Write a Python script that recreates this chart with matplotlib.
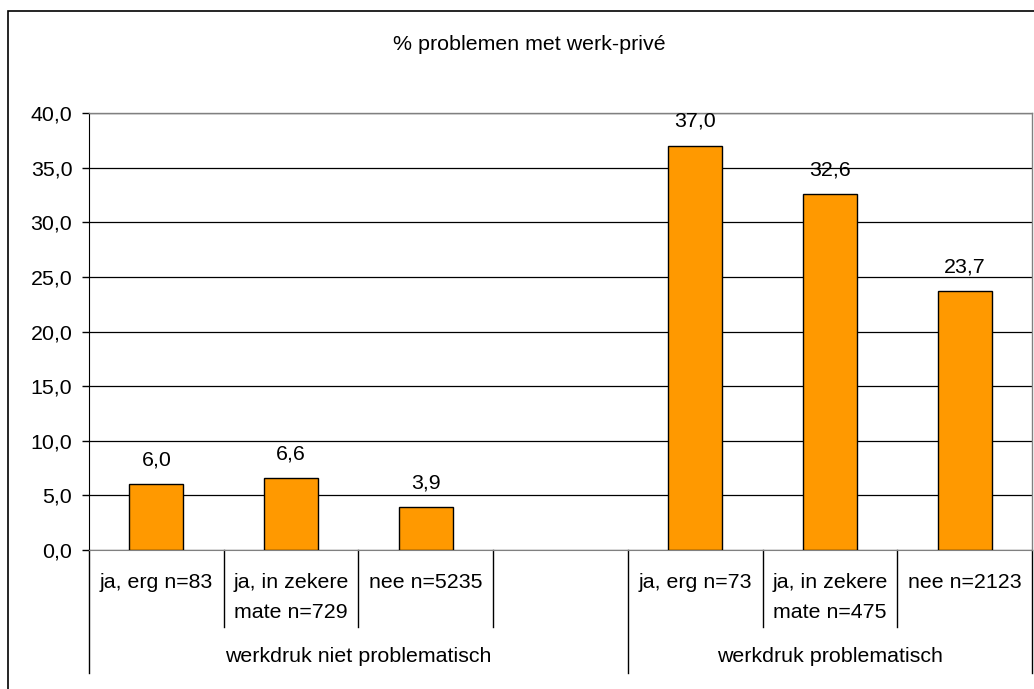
import matplotlib
matplotlib.use("Agg")
import matplotlib.pyplot as plt
from matplotlib.patches import Rectangle
from matplotlib.ticker import FuncFormatter, MultipleLocator
import matplotlib.transforms as mtransforms

plt.rcParams['font.family'] = ['Liberation Sans', 'DejaVu Sans']

title = "% problemen met werk-privé"
categories = ["ja, erg n=83", "ja, in zekere\nmate n=729", "nee n=5235", "",
              "ja, erg n=73", "ja, in zekere\nmate n=475", "nee n=2123"]
values = [6.0, 6.6, 3.9, None, 37.0, 32.6, 23.7]
groups = ["werkdruk niet problematisch", "werkdruk problematisch"]
group_spans = [(0, 3), (4, 6)]  # slot index ranges (inclusive)

FS = 15.4
W, H = 1034, 689
fig = plt.figure(figsize=(W / 100, H / 100), dpi=100)
fig.patch.set_facecolor('white')

# outer chart border (cropped on right/bottom)
fig.patches.append(Rectangle((8 / W, -0.2), 1.5, 1.2 - 11 / H,
                             transform=fig.transFigure, fill=False,
                             edgecolor='black', linewidth=1.2, zorder=0))

left, right, top, bottom = 89, 1032, 113, 550
ax = fig.add_axes([left / W, 1 - bottom / H, (right - left) / W, (bottom - top) / H])

n = len(categories)
xs = [i for i, v in enumerate(values) if v is not None]
vs = [v for v in values if v is not None]
ax.bar(xs, vs, width=0.4, color='#FF9900', edgecolor='black', linewidth=1.0, zorder=3)

for x, v in zip(xs, vs):
    ax.annotate(f"{v:.1f}".replace('.', ','), (x, v), xytext=(0, 17.5),
                textcoords='offset points', ha='center', va='center', fontsize=FS)

ax.set_xlim(-0.5, n - 0.5)
ax.set_ylim(0, 40)
ax.yaxis.set_major_locator(MultipleLocator(5))
ax.yaxis.set_major_formatter(FuncFormatter(lambda v, p: f"{v:.1f}".replace('.', ',')))
ax.tick_params(axis='y', direction='out', length=5, width=1, labelsize=FS, pad=7)
ax.set_xticks([])
ax.grid(axis='y', color='black', linewidth=0.9, zorder=1)

for s in ['top', 'right']:
    ax.spines[s].set_color('#808080')
    ax.spines[s].set_linewidth(1.0)
ax.spines['left'].set_color('black')
ax.spines['bottom'].set_color('#808080')

fig.text(529 / W, 1 - 45 / H, title, ha='center', va='center', fontsize=FS)

# hierarchical category axis
trans = mtransforms.blended_transform_factory(ax.transData, ax.transAxes)
ax_h = bottom - top
cat_line = -(627 - bottom) / ax_h
grp_line = -(673 - bottom) / ax_h

for b in range(n + 1):
    xb = b - 0.5
    is_group_edge = any(xb == s - 0.5 or xb == e + 0.5 for s, e in group_spans)
    y_end = grp_line if is_group_edge else cat_line
    ax.plot([xb, xb], [0, y_end], transform=trans, color='black',
            linewidth=1.0, clip_on=False)

for i, lab in enumerate(categories):
    if lab:
        ax.text(i, -(573 - bottom) / ax_h, lab, transform=trans, ha='center', va='top',
                fontsize=FS, linespacing=1.75)

for g, (s, e) in zip(groups, group_spans):
    ax.text((s + e) / 2, -(657 - bottom) / ax_h, g, transform=trans, ha='center',
            va='center', fontsize=FS)

fig.savefig("out.png", dpi=100)
